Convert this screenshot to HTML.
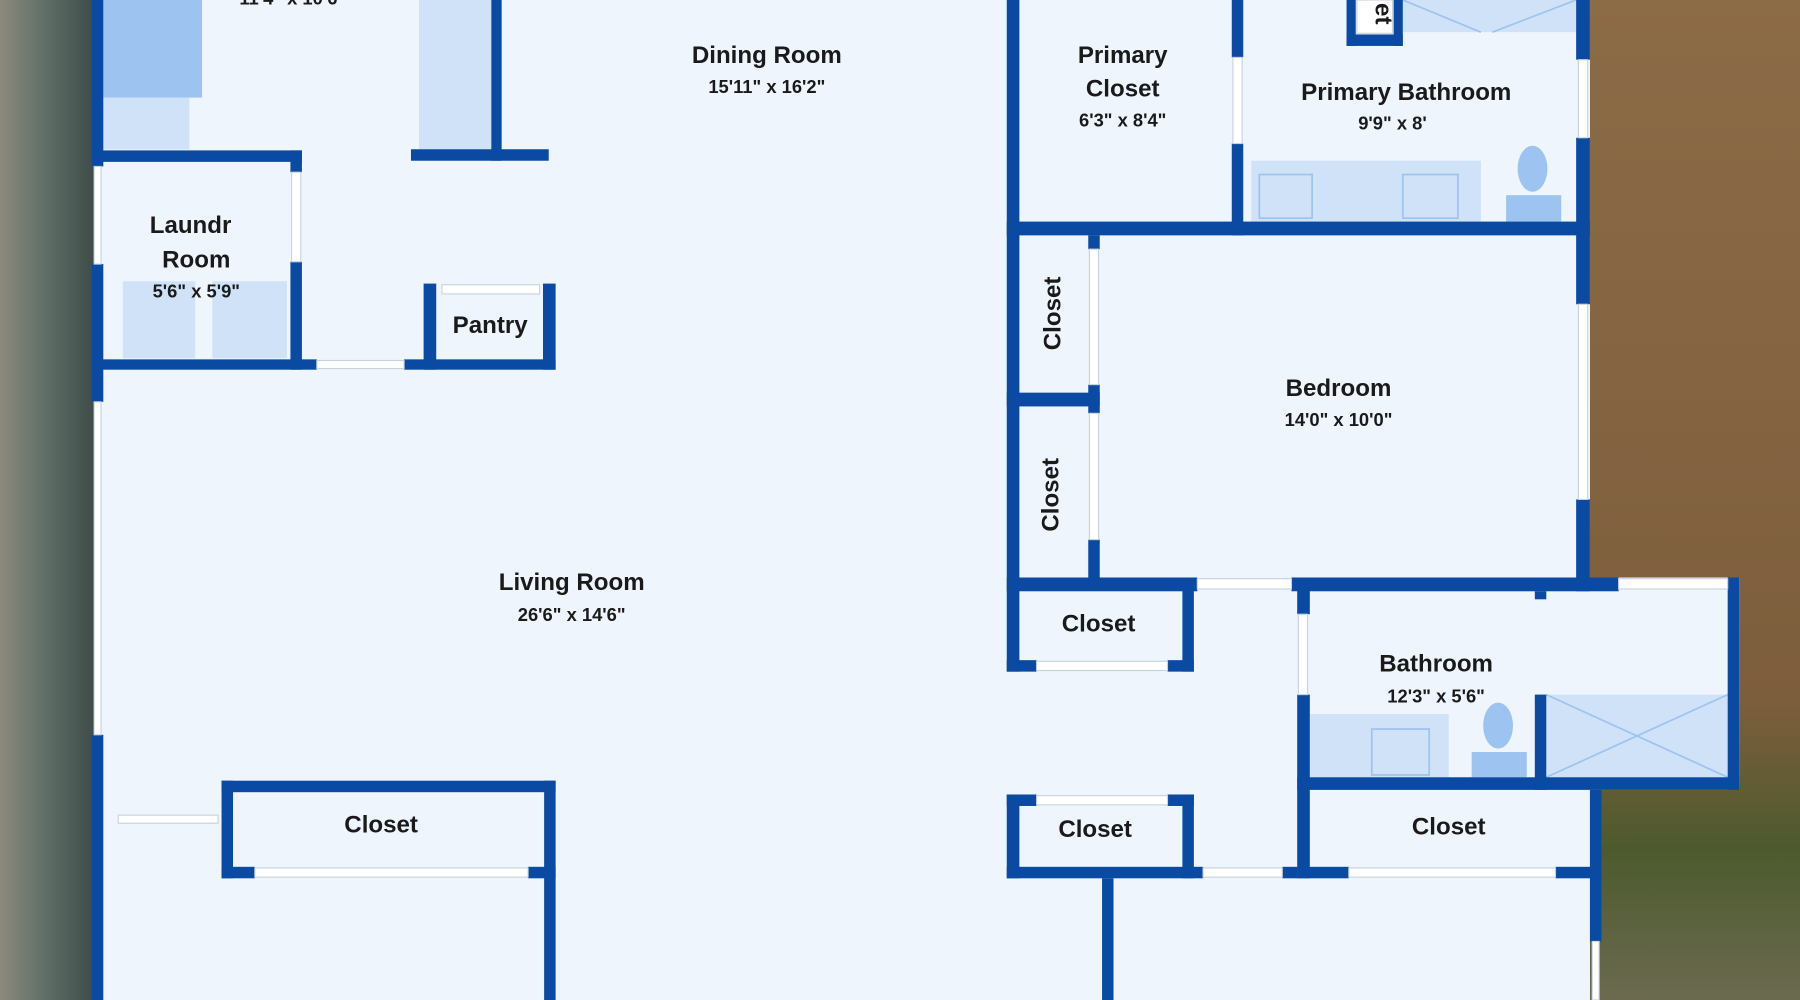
<!DOCTYPE html>
<html><head><meta charset="utf-8"><style>
html,body{margin:0;padding:0;width:1800px;height:1000px;overflow:hidden;background:#eef5fc}
svg{display:block}
text{font-family:"Liberation Sans",sans-serif;font-weight:bold;fill:#1a1a1a;text-anchor:middle}
.s{font-size:16px;font-weight:bold}
.l{font-size:21px}
</style></head><body>
<svg width="1800" height="1000" viewBox="0 0 1568 871" preserveAspectRatio="none">
<defs>
<linearGradient id="lg" x1="0" x2="1"><stop offset="0" stop-color="#8c8a7c"/><stop offset="0.5" stop-color="#5d6e66"/><stop offset="1" stop-color="#3f4c48"/></linearGradient>
<linearGradient id="rg" x1="0" y1="0" x2="0" y2="1"><stop offset="0" stop-color="#8c6b47"/><stop offset="0.7" stop-color="#7d5e3c"/><stop offset="0.85" stop-color="#4d5a2e"/><stop offset="1" stop-color="#6b6a50"/></linearGradient>
</defs>
<rect x="0" y="0" width="82" height="871" fill="url(#lg)"/>
<rect x="1385" y="0" width="183" height="871" fill="url(#rg)"/>
<rect x="82" y="0" width="1303" height="871" fill="#eef5fc"/>
<rect x="1385" y="503" width="130" height="185" fill="#eef5fc"/>

<g fill="#9dc3f0"><rect x="90" y="0" width="86" height="85"/></g>
<g fill="#cfe2f8"><rect x="90" y="85" width="75" height="45"/><rect x="365" y="0" width="63" height="130"/>
<rect x="107" y="245" width="63" height="67"/><rect x="185" y="245" width="65" height="67"/>
<rect x="1222" y="0" width="151" height="28"/><rect x="1090" y="140" width="200" height="53"/>
<rect x="1141" y="622" width="121" height="55"/><rect x="1347" y="605" width="158" height="72"/></g>
<g stroke="#9dc3f0" stroke-width="1.5" fill="none">
<path d="M1222 0 L1290 28 M1373 0 L1300 28"/><path d="M1347 605 L1505 677 M1505 605 L1347 677"/>
<rect x="1097" y="152" width="46" height="38"/><rect x="1222" y="152" width="48" height="38"/><rect x="1195" y="635" width="50" height="40"/></g>
<g fill="#9dc3f0"><ellipse cx="1335" cy="147" rx="13" ry="20"/><rect x="1312" y="170" width="48" height="23"/>
<ellipse cx="1305" cy="632" rx="13" ry="20"/><rect x="1282" y="655" width="48" height="22"/></g>

<g fill="#0b4aa2">
<!-- left outer wall -->
<rect x="80" y="0" width="10" height="145"/><rect x="80" y="230" width="10" height="120"/><rect x="80" y="640" width="10" height="231"/>
<!-- kitchen -->
<rect x="428" y="0" width="9" height="140"/><rect x="358" y="130" width="120" height="10"/>
<!-- laundry -->
<rect x="80" y="131" width="183" height="10"/><rect x="253" y="131" width="10" height="19"/><rect x="253" y="228" width="10" height="94"/>
<rect x="80" y="313" width="196" height="9"/><rect x="352" y="313" width="132" height="9"/>
<rect x="369" y="247" width="11" height="75"/><rect x="473" y="247" width="11" height="75"/>
<!-- bottom-left closet -->
<rect x="193" y="680" width="291" height="10"/><rect x="193" y="680" width="10" height="85"/><rect x="474" y="680" width="10" height="191"/>
<rect x="193" y="755" width="29" height="10"/><rect x="460" y="755" width="24" height="10"/>
<!-- right section -->
<rect x="877" y="0" width="11" height="585"/>
<rect x="1073" y="0" width="10" height="50"/><rect x="1073" y="125" width="10" height="80"/>
<rect x="877" y="193" width="508" height="12"/>
<rect x="1373" y="0" width="12" height="52"/><rect x="1373" y="120" width="12" height="145"/><rect x="1373" y="435" width="12" height="80"/>
<rect x="1173" y="0" width="8" height="40"/><rect x="1214" y="0" width="8" height="40"/><rect x="1173" y="30" width="49" height="10"/>
<rect x="948" y="205" width="10" height="12"/><rect x="948" y="335" width="10" height="25"/><rect x="948" y="470" width="10" height="40"/>
<rect x="877" y="342" width="81" height="12"/>
<rect x="877" y="503" width="166" height="12"/><rect x="1125" y="503" width="285" height="12"/><rect x="1505" y="503" width="10" height="185"/>
<rect x="1030" y="503" width="10" height="82"/><rect x="877" y="575" width="26" height="10"/><rect x="1017" y="575" width="23" height="10"/>
<rect x="1130" y="503" width="11" height="32"/><rect x="1130" y="605" width="11" height="160"/>
<rect x="1337" y="515" width="10" height="7"/><rect x="1337" y="605" width="10" height="83"/>
<rect x="1130" y="677" width="385" height="11"/>
<rect x="1385" y="688" width="10" height="132"/>
<rect x="1130" y="755" width="45" height="10"/><rect x="1355" y="755" width="40" height="10"/>
<rect x="877" y="692" width="26" height="10"/><rect x="1017" y="692" width="23" height="10"/>
<rect x="877" y="692" width="11" height="73"/><rect x="1030" y="692" width="10" height="73"/>
<rect x="877" y="755" width="171" height="10"/><rect x="1117" y="755" width="13" height="10"/>
<rect x="960" y="765" width="10" height="106"/>
</g>
<g fill="#ffffff" stroke="#c9d3dc" stroke-width="1">
<rect x="82" y="145" width="6" height="85"/><rect x="82" y="350" width="6" height="290"/>
<rect x="254" y="150" width="8" height="78"/><rect x="276" y="314" width="76" height="7"/>
<rect x="385" y="248" width="85" height="8"/><rect x="222" y="756" width="238" height="8"/>
<rect x="103" y="710" width="87" height="7"/>
<rect x="1074" y="50" width="8" height="75"/><rect x="1375" y="52" width="8" height="68"/><rect x="1375" y="265" width="8" height="170"/>
<rect x="949" y="217" width="8" height="118"/><rect x="949" y="360" width="8" height="110"/>
<rect x="1043" y="504" width="82" height="9"/><rect x="1410" y="504" width="95" height="9"/>
<rect x="903" y="576" width="114" height="8"/><rect x="1131" y="535" width="8" height="70"/>
<rect x="1175" y="756" width="180" height="8"/><rect x="903" y="693" width="114" height="8"/><rect x="1048" y="756" width="69" height="8"/>
<rect x="1387" y="820" width="6" height="51"/><rect x="1182" y="0" width="31" height="29"/>
</g>

<text class="s" x="255" y="4">11'4" x 10'6"</text>
<text class="l" x="668" y="55">Dining Room</text><text class="s" x="668" y="81">15'11" x 16'2"</text>
<text class="l" x="166" y="203">Laundr</text><text class="l" x="171" y="233">Room</text><text class="s" x="171" y="259">5'6" x 5'9"</text>
<text class="l" x="427" y="290">Pantry</text>
<text class="l" x="498" y="514">Living Room</text><text class="s" x="498" y="541">26'6" x 14'6"</text>
<text class="l" x="332" y="725">Closet</text>
<text class="l" x="978" y="55">Primary</text><text class="l" x="978" y="84">Closet</text><text class="s" x="978" y="110">6'3" x 8'4"</text>
<text class="l" x="1225" y="87">Primary Bathroom</text><text class="s" x="1213" y="113">9'9" x 8'</text>
<text class="l" x="1198" y="12" transform="rotate(90 1198 12)">et</text>
<text class="l" transform="translate(924 273) rotate(-90)">Closet</text>
<text class="l" transform="translate(922 431) rotate(-90)">Closet</text>
<text class="l" x="1166" y="345">Bedroom</text><text class="s" x="1166" y="371">14'0" x 10'0"</text>
<text class="l" x="957" y="550">Closet</text>
<text class="l" x="1251" y="585">Bathroom</text><text class="s" x="1251" y="612">12'3" x 5'6"</text>
<text class="l" x="954" y="729">Closet</text>
<text class="l" x="1262" y="727">Closet</text>
</svg>
</body></html>
